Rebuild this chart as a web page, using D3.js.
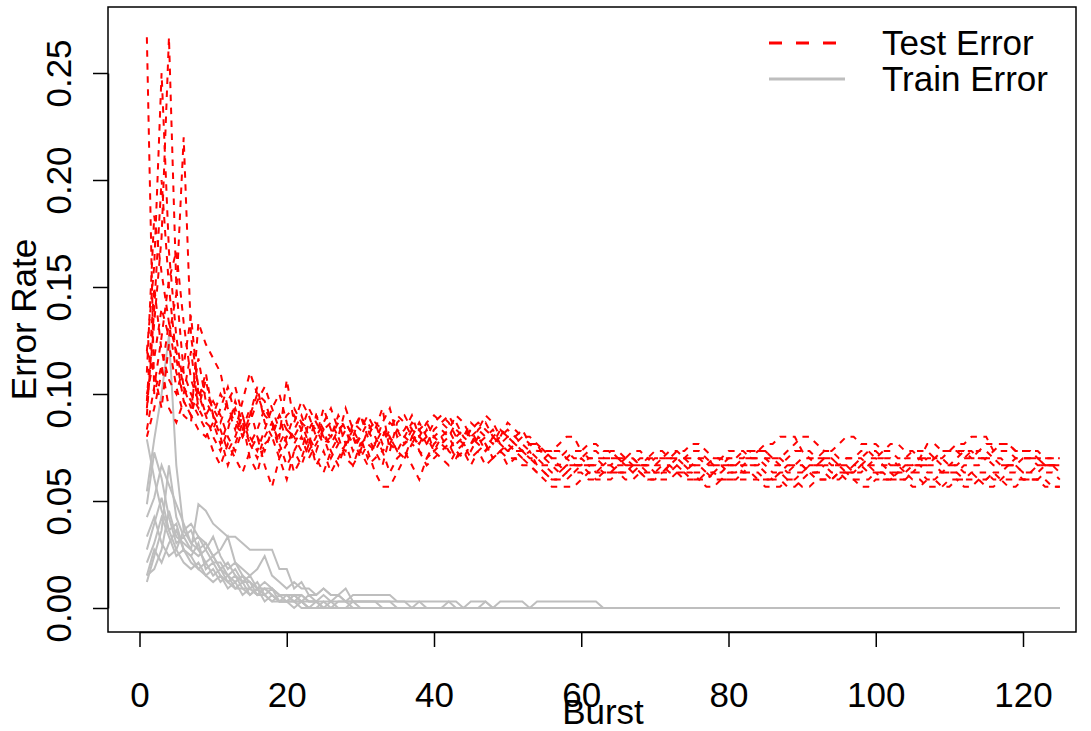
<!DOCTYPE html>
<html>
<head>
<meta charset="utf-8">
<script src="https://cdn.jsdelivr.net/npm/d3@7"></script>
<style>
  body { margin: 0; background: #fff; }
  svg text { font-family: "Liberation Sans", Arial, Helvetica, sans-serif; fill: #000; }
</style>
</head>
<body>
<svg id="chart" width="1091" height="731"></svg>
<script>
// Error rates are quantised, so they are kept as counts of misclassified
// examples: test set ~300 examples, training set ~330 examples.
const TEST_SET_SIZE = 300;
const TRAIN_SET_SIZE = 330;

// Burst index 1..125 (x axis)
const bursts = Array.from({ length: 125 }, (_, i) => i + 1);

// Test error counts, one array per run (10 runs x 125 bursts)
const testErrorCounts = [
    [80,30,34,28,26,29,27,25,24,26, 23,26,28,25,27,31,26,24,27,25, 24,22,26,25,23,24,27,25,23,24,
     26,24,22,23,25,24,23,25,26,24, 23,22,24,25,24,23,22,24,23,22, 23,24,23,22,22,21,20,19,20,20,
     21,21,20,20,19,19,19,20,20,20, 21,21,21,20,20,20,19,19,20,20, 20,21,21,22,22,21,21,20,20,20,
     19,19,20,20,20,21,21,21,20,20, 20,19,19,20,20,20,21,21,20,20, 21,22,22,21,21,20,20,20,21,21,
     21,20,20,20,20],
    [28,40,52,80,45,33,30,28,32,27, 30,28,25,29,33,30,27,26,24,32, 26,29,27,24,26,28,25,26,24,27,
     25,23,26,28,24,25,27,24,23,25, 26,27,25,24,26,25,24,23,25,24, 24,25,23,23,22,21,21,22,21,21,
     22,22,21,21,21,20,20,21,21,22, 22,21,21,21,22,22,21,20,20,21, 21,22,22,22,23,23,24,24,24,22,
     21,21,22,22,23,24,24,23,23,23, 22,22,21,21,22,22,22,21,21,22, 23,23,24,24,24,22,22,22,21,21,
     21,21,20,20,20],
    [36,48,75,50,38,31,28,35,29,27, 25,22,24,27,23,21,24,26,23,20, 22,24,21,23,25,22,20,23,24,21,
     23,22,20,24,22,23,25,22,21,23, 24,22,21,23,22,24,23,21,22,23, 22,21,22,20,19,18,18,19,19,20,
     20,19,19,19,20,20,19,19,18,18, 19,19,20,20,19,19,19,18,18,19, 19,19,20,20,19,18,18,17,17,18,
     19,19,19,18,18,19,19,20,20,19, 19,18,18,18,19,19,18,18,17,17, 18,18,19,19,19,18,18,17,17,18,
     18,18,19,19,18],
    [30,35,42,38,44,66,38,31,27,29, 27,24,22,25,28,24,22,25,27,23, 25,27,24,22,25,26,24,28,25,23,
     24,26,25,23,22,24,26,25,23,24, 25,24,26,24,23,25,26,24,25,24, 23,22,23,23,21,20,20,21,22,22,
     21,21,21,22,22,21,21,20,20,21, 21,22,22,21,21,21,20,20,21,22, 22,22,21,21,21,20,20,21,22,22,
     22,21,21,21,20,20,20,21,22,22, 21,21,20,20,20,21,23,23,22,22, 22,22,21,21,21,22,23,23,22,22,
     22,21,21,21,21],
    [33,55,47,40,33,30,36,28,26,25, 28,31,27,24,26,29,31,28,25,27, 28,26,23,27,25,24,26,23,25,27,
     24,22,24,26,25,23,24,26,24,22, 24,25,23,24,25,23,24,25,23,22, 22,22,21,21,20,19,19,20,20,21,
     20,20,19,19,20,21,21,20,19,19, 19,20,20,19,19,18,18,19,19,20, 20,19,19,18,18,18,19,20,20,21,
     21,20,20,19,19,19,20,20,19,19, 18,18,19,19,20,20,19,19,19,20, 20,19,19,18,18,19,19,20,20,19,
     19,19,20,20,20],
    [27,42,60,45,35,29,27,31,30,28, 26,29,31,27,24,22,25,28,30,26, 23,25,28,26,24,21,23,25,22,24,
     21,23,25,24,22,21,24,23,25,22, 23,24,22,21,23,24,22,23,24,25, 24,23,22,21,21,22,22,21,20,20,
     19,19,20,20,21,21,20,20,20,19, 19,20,21,21,20,20,20,21,21,20, 20,20,21,21,20,19,19,18,18,19,
     20,20,21,21,20,20,19,19,20,21, 21,20,20,19,19,20,20,21,21,20, 20,21,21,22,22,21,21,20,20,19,
     19,20,20,20,19],
    [25,31,38,46,50,40,32,29,33,27, 24,20,23,26,21,19,23,24,21,18, 22,20,23,21,19,22,24,21,20,23,
     22,19,17,17,19,21,23,22,20,21, 22,23,21,22,20,22,23,21,22,21, 21,20,20,19,19,18,18,18,19,19,
     18,18,19,19,19,18,18,19,19,19, 20,20,19,18,18,18,19,19,18,18, 18,19,19,19,18,18,19,19,20,20,
     19,18,18,18,19,19,18,18,18,19, 19,19,18,18,17,17,18,18,19,19, 19,18,18,18,17,17,18,19,19,18,
     18,18,18,17,17],
    [29,45,36,32,30,34,41,30,27,24, 22,25,29,26,23,25,28,26,22,24, 27,25,22,24,28,25,23,22,26,25,
     27,25,28,22,26,27,25,24,26,27, 26,25,27,26,24,25,27,26,24,26, 25,24,24,23,22,22,23,24,24,22,
     23,23,22,22,21,21,22,22,21,21, 21,21,22,22,23,23,22,21,21,21, 21,21,22,22,22,21,21,22,23,24,
     24,23,22,22,21,21,21,22,22,21, 22,23,23,22,22,21,21,21,22,22, 22,21,22,22,23,23,23,23,22,22,
     22,22,21,21,21],
    [36,33,28,37,31,27,26,40,37,35, 33,28,26,24,27,30,29,26,23,25, 24,26,25,27,24,23,25,26,24,22,
     25,26,23,25,27,26,24,23,24,26, 27,26,24,23,25,26,25,24,23,24, 23,22,21,20,20,20,19,20,20,20,
     20,20,20,21,21,20,20,20,21,20, 20,19,19,19,20,21,21,20,20,19, 19,20,20,20,21,21,20,19,19,19,
     20,20,21,20,20,19,19,20,21,21, 20,20,20,21,21,21,20,20,19,19, 19,20,20,20,21,21,20,20,20,21,
     21,21,20,20,20],
    [24,28,33,40,36,31,29,27,25,22, 20,23,21,19,22,24,20,17,21,23, 19,21,24,20,22,19,21,23,20,22,
     20,21,22,19,21,22,20,18,21,22, 21,20,22,23,21,22,20,21,22,20, 21,21,20,19,18,17,17,17,17,18,
     19,18,18,18,19,19,20,19,18,18, 18,18,19,19,18,18,17,17,18,18, 18,18,18,18,17,17,17,18,18,17,
     17,18,18,18,19,18,18,17,17,18, 18,18,19,19,18,18,17,17,17,18, 18,17,17,18,18,19,18,18,18,18,
     18,18,17,17,17]
];

// Training error counts, one array per run (10 runs x 125 bursts)
const trainErrorCounts = [
    [18,26,33,42,22,12,10,9,7,8, 6,5,4,5,3,2,3,2,1,1, 1,0,0,1,0,0,0,0,0,0,
     0,0,0,0,0,0,0,0,0,0, 0,0,0,0,0,0,0,0,0,0, 0,0,0,0,0,0,0,0,0,0,
     0,0,0,0,0,0,0,0,0,0, 0,0,0,0,0,0,0,0,0,0, 0,0,0,0,0,0,0,0,0,0,
     0,0,0,0,0,0,0,0,0,0, 0,0,0,0,0,0,0,0,0,0, 0,0,0,0,0,0,0,0,0,0,
     0,0,0,0,0],
    [4,8,12,22,14,11,12,9,10,8, 6,7,5,4,5,3,4,3,2,2, 2,1,2,1,1,1,2,1,1,1,
     1,1,1,1,1,1,0,1,1,1, 1,1,1,0,1,1,1,0,1,1, 1,1,0,1,1,1,1,1,1,1,
     1,1,0,0,0,0,0,0,0,0, 0,0,0,0,0,0,0,0,0,0, 0,0,0,0,0,0,0,0,0,0,
     0,0,0,0,0,0,0,0,0,0, 0,0,0,0,0,0,0,0,0,0, 0,0,0,0,0,0,0,0,0,0,
     0,0,0,0,0],
    [11,14,10,8,9,12,13,11,10,8, 9,11,7,6,5,6,8,5,4,3, 4,3,3,2,3,2,2,1,2,2,
     2,2,2,2,1,1,1,1,0,0, 0,0,0,0,0,0,0,0,0,0, 0,0,0,0,0,0,0,0,0,0,
     0,0,0,0,0,0,0,0,0,0, 0,0,0,0,0,0,0,0,0,0, 0,0,0,0,0,0,0,0,0,0,
     0,0,0,0,0,0,0,0,0,0, 0,0,0,0,0,0,0,0,0,0, 0,0,0,0,0,0,0,0,0,0,
     0,0,0,0,0],
    [5,6,9,15,11,10,9,8,9,11, 8,6,7,5,4,3,3,2,1,1, 2,2,1,1,0,0,1,1,0,0,
     0,0,0,0,0,0,0,0,0,0, 0,0,0,0,0,0,0,0,0,0, 0,0,0,0,0,0,0,0,0,0,
     0,0,0,0,0,0,0,0,0,0, 0,0,0,0,0,0,0,0,0,0, 0,0,0,0,0,0,0,0,0,0,
     0,0,0,0,0,0,0,0,0,0, 0,0,0,0,0,0,0,0,0,0, 0,0,0,0,0,0,0,0,0,0,
     0,0,0,0,0],
    [9,13,17,12,9,7,6,7,5,6, 4,5,3,3,2,3,2,1,2,1, 1,1,0,0,1,0,0,0,1,0,
     0,0,0,0,0,0,0,0,0,0, 0,1,0,0,0,0,1,0,0,0, 0,0,0,0,0,0,0,0,0,0,
     0,0,0,0,0,0,0,0,0,0, 0,0,0,0,0,0,0,0,0,0, 0,0,0,0,0,0,0,0,0,0,
     0,0,0,0,0,0,0,0,0,0, 0,0,0,0,0,0,0,0,0,0, 0,0,0,0,0,0,0,0,0,0,
     0,0,0,0,0],
    [16,24,20,14,10,11,9,16,15,13, 12,11,11,10,9,9,9,9,6,6, 3,4,2,2,3,2,2,3,1,1,
     1,1,0,0,0,0,0,0,0,0, 0,0,0,0,0,0,0,0,0,0, 0,0,0,0,0,0,0,0,0,0,
     0,0,0,0,0,0,0,0,0,0, 0,0,0,0,0,0,0,0,0,0, 0,0,0,0,0,0,0,0,0,0,
     0,0,0,0,0,0,0,0,0,0, 0,0,0,0,0,0,0,0,0,0, 0,0,0,0,0,0,0,0,0,0,
     0,0,0,0,0],
    [7,10,14,11,8,9,7,6,5,4, 5,3,4,2,3,2,2,1,1,1, 2,1,1,1,0,1,0,0,0,0,
     0,0,0,0,0,0,0,0,0,0, 0,0,0,0,0,0,0,0,0,0, 0,0,0,0,0,0,0,0,0,0,
     0,0,0,0,0,0,0,0,0,0, 0,0,0,0,0,0,0,0,0,0, 0,0,0,0,0,0,0,0,0,0,
     0,0,0,0,0,0,0,0,0,0, 0,0,0,0,0,0,0,0,0,0, 0,0,0,0,0,0,0,0,0,0,
     0,0,0,0,0],
    [26,20,15,12,13,9,8,10,6,7, 5,4,5,3,3,4,2,3,1,2, 1,2,1,1,2,1,1,1,1,1,
     1,1,1,1,0,0,0,0,0,0, 0,0,0,0,0,0,0,0,0,0, 0,0,0,0,0,0,0,0,0,0,
     0,0,0,0,0,0,0,0,0,0, 0,0,0,0,0,0,0,0,0,0, 0,0,0,0,0,0,0,0,0,0,
     0,0,0,0,0,0,0,0,0,0, 0,0,0,0,0,0,0,0,0,0, 0,0,0,0,0,0,0,0,0,0,
     0,0,0,0,0],
    [14,17,22,19,16,13,10,11,9,7, 7,5,6,4,4,2,3,3,2,2, 1,1,0,0,0,0,0,0,0,0,
     0,0,0,0,0,0,0,0,0,0, 0,0,0,0,0,0,0,0,0,0, 0,0,0,0,0,0,0,0,0,0,
     0,0,0,0,0,0,0,0,0,0, 0,0,0,0,0,0,0,0,0,0, 0,0,0,0,0,0,0,0,0,0,
     0,0,0,0,0,0,0,0,0,0, 0,0,0,0,0,0,0,0,0,0, 0,0,0,0,0,0,0,0,0,0,
     0,0,0,0,0],
    [5,9,7,10,12,9,8,6,7,5, 6,4,3,4,2,3,1,2,1,1, 0,1,0,0,0,0,0,0,0,0,
     0,0,0,0,0,0,0,0,0,0, 0,0,0,0,0,0,0,0,0,0, 0,0,0,0,0,0,0,0,0,0,
     0,0,0,0,0,0,0,0,0,0, 0,0,0,0,0,0,0,0,0,0, 0,0,0,0,0,0,0,0,0,0,
     0,0,0,0,0,0,0,0,0,0, 0,0,0,0,0,0,0,0,0,0, 0,0,0,0,0,0,0,0,0,0,
     0,0,0,0,0]
];

const xTicks = [0, 20, 40, 60, 80, 100, 120];
const yTicks = [0.00, 0.05, 0.10, 0.15, 0.20, 0.25];
const legendLabels = ["Test Error", "Train Error"];

// sanity check on hand typed arrays
testErrorCounts.concat(trainErrorCounts).forEach((run, i) => {
    if (run.length !== bursts.length) console.warn("run", i, "has", run.length, "values");
});

// --------------- LAYOUT ---------------
const svg = d3.select("#chart");
const box = { left: 108, top: 7, right: 1076, bottom: 632 };

const x = d3.scaleLinear().domain([0, 120]).range([139.5, 1023]);
const y = d3.scaleLinear().domain([0, 0.25]).range([608, 73]);

svg.append("defs").append("clipPath").attr("id", "plotClip")
    .append("rect")
    .attr("x", box.left).attr("y", box.top)
    .attr("width", box.right - box.left).attr("height", box.bottom - box.top);

const plot = svg.append("g").attr("clip-path", "url(#plotClip)");

// Training curves (grey, solid)
const trainLine = d3.line()
    .x((d, i) => x(bursts[i]))
    .y(d => y(d / TRAIN_SET_SIZE));

plot.selectAll(".train")
    .data(trainErrorCounts)
    .enter()
    .append("path")
    .attr("class", "train")
    .attr("d", trainLine)
    .attr("fill", "none")
    .attr("stroke", "#BEBEBE")
    .attr("stroke-width", 2);

// Test curves (red, dashed)
const testLine = d3.line()
    .x((d, i) => x(bursts[i]))
    .y(d => y(d / TEST_SET_SIZE));

plot.selectAll(".test")
    .data(testErrorCounts)
    .enter()
    .append("path")
    .attr("class", "test")
    .attr("d", testLine)
    .attr("fill", "none")
    .attr("stroke", "#FF0000")
    .attr("stroke-width", 2)
    .attr("stroke-dasharray", "6.5,6.5");

// Box around the plot
svg.append("rect")
    .attr("x", box.left).attr("y", box.top)
    .attr("width", box.right - box.left).attr("height", box.bottom - box.top)
    .attr("fill", "none")
    .attr("stroke", "#000")
    .attr("stroke-width", 1.5);

// X axis
const xAxis = svg.append("g")
    .attr("transform", `translate(0,${box.bottom})`)
    .call(d3.axisBottom(x).tickValues(xTicks).tickFormat(d3.format("d"))
        .tickSize(15).tickPadding(35).tickSizeOuter(0));
xAxis.select(".domain").attr("stroke-width", 1.5);
xAxis.selectAll(".tick line").attr("stroke-width", 1.5);
xAxis.selectAll("text")
    .attr("font-size", 35)
    .attr("font-family", "Liberation Sans, Arial, sans-serif");

// Y axis with labels turned parallel to the axis
const yAxis = svg.append("g")
    .attr("transform", `translate(${box.left},0)`)
    .call(d3.axisLeft(y).tickValues(yTicks).tickFormat(d3.format(".2f"))
        .tickSize(15).tickSizeOuter(0));
yAxis.select(".domain").attr("stroke-width", 1.5);
yAxis.selectAll(".tick line").attr("stroke-width", 1.5);
yAxis.selectAll("text")
    .attr("x", null).attr("dy", null)
    .attr("text-anchor", "middle")
    .attr("transform", "translate(-37,0) rotate(-90)")
    .attr("font-size", 35)
    .attr("font-family", "Liberation Sans, Arial, sans-serif");

// Axis titles
svg.append("text")
    .attr("x", 603).attr("y", 724)
    .attr("text-anchor", "middle")
    .attr("font-size", 35)
    .text("Burst");

svg.append("text")
    .attr("transform", `translate(36,${(box.top + box.bottom) / 2}) rotate(-90)`)
    .attr("text-anchor", "middle")
    .attr("font-size", 35)
    .text("Error Rate");

// --------------- LEGEND ---------------
const legend = svg.append("g");
const legendRows = [
    { label: legendLabels[0], color: "#FF0000", dash: "13,14", y: 43 },
    { label: legendLabels[1], color: "#BEBEBE", dash: null, y: 79 }
];

legendRows.forEach(row => {
    legend.append("line")
        .attr("x1", 769).attr("x2", 845)
        .attr("y1", row.y).attr("y2", row.y)
        .attr("stroke", row.color)
        .attr("stroke-width", 3)
        .attr("stroke-dasharray", row.dash);
    legend.append("text")
        .attr("x", 882).attr("y", row.y + 12)
        .attr("font-size", 35)
        .text(row.label);
});
</script>
</body>
</html>
